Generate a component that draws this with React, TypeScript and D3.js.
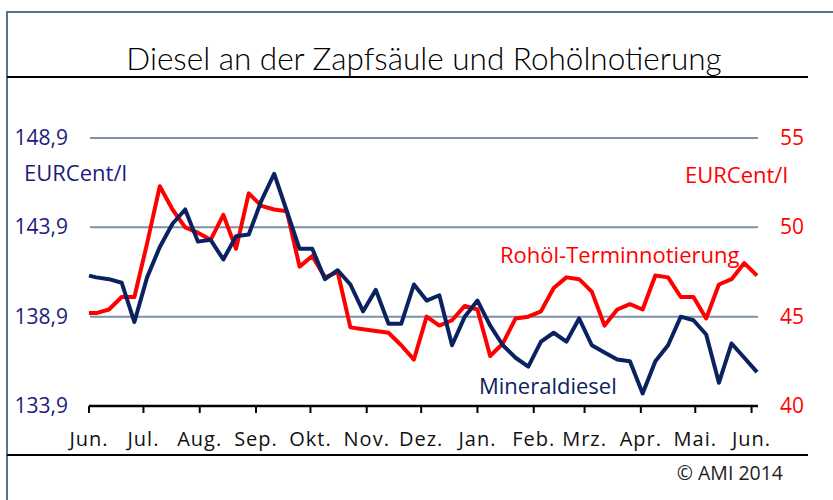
import React from "react";
import * as d3 from "d3";

// weekly quotes, Jun 2013 - Jun 2014
const dates = [
  "2013-06-01", "2013-06-05", "2013-06-12", "2013-06-19", "2013-06-26",
  "2013-07-03", "2013-07-10", "2013-07-17", "2013-07-24", "2013-07-31",
  "2013-08-07", "2013-08-14", "2013-08-21", "2013-08-28",
  "2013-09-04", "2013-09-11", "2013-09-18", "2013-09-25",
  "2013-10-02", "2013-10-09", "2013-10-16", "2013-10-23", "2013-10-30",
  "2013-11-06", "2013-11-13", "2013-11-20", "2013-11-27",
  "2013-12-04", "2013-12-11", "2013-12-18", "2013-12-25",
  "2014-01-01", "2014-01-08", "2014-01-15", "2014-01-22", "2014-01-29",
  "2014-02-05", "2014-02-12", "2014-02-19", "2014-02-26",
  "2014-03-05", "2014-03-12", "2014-03-19", "2014-03-26",
  "2014-04-02", "2014-04-09", "2014-04-16", "2014-04-23", "2014-04-30",
  "2014-05-07", "2014-05-14", "2014-05-21", "2014-05-28",
  "2014-06-04",
];

const diesel = [
  141.2, 141.1, 141.0, 140.8, 138.6, 141.1, 142.8, 144.1, 144.9, 143.1,
  143.2, 142.1, 143.4, 143.5, 145.4, 146.9, 144.8, 142.7, 142.7, 141.0,
  141.5, 140.7, 139.2, 140.4, 138.5, 138.5, 140.7, 139.8, 140.1, 137.3,
  138.9, 139.8, 138.4, 137.3, 136.6, 136.1, 137.5, 138.0, 137.5, 138.8,
  137.3, 136.9, 136.5, 136.4, 134.6, 136.4, 137.3, 138.9, 138.7, 137.9,
  135.2, 137.4, 136.6, 135.8,
];

const crude = [
  45.2, 45.2, 45.4, 46.1, 46.1, 49.1, 52.3, 51.0, 50.0, 49.7,
  49.3, 50.7, 48.8, 51.9, 51.2, 51.0, 50.9, 47.8, 48.4, 47.2,
  47.5, 44.4, 44.3, 44.2, 44.1, 43.4, 42.6, 45.0, 44.5, 44.8,
  45.6, 45.4, 42.8, 43.5, 44.9, 45.0, 45.3, 46.6, 47.2, 47.1,
  46.4, 44.5, 45.4, 45.7, 45.4, 47.3, 47.2, 46.1, 46.1, 44.9,
  46.8, 47.1, 48.0, 47.3,
];

const monthLabels = ["Jun.", "Jul.", "Aug.", "Sep.", "Okt.", "Nov.", "Dez.", "Jan.", "Feb.", "Mrz.", "Apr.", "Mai.", "Jun."];
const leftTicks = [133.9, 138.9, 143.9, 148.9];
const rightTicks = [40, 45, 50, 55];

const W = 833, H = 500;
const navy = "#0b2260";
const red = "#ff0000";
const font = "'Open Sans', sans-serif";

export default function App() {
  const parse = d3.timeParse("%Y-%m-%d");
  const days = dates.map((d) => parse(d) as Date);

  const x = d3.scaleTime()
    .domain([parse("2013-06-01") as Date, parse("2014-06-04") as Date])
    .range([89, 757]);
  const yL = d3.scaleLinear().domain([133.9, 148.9]).range([406, 138]);
  const yR = d3.scaleLinear().domain([40, 55]).range([406, 138]);

  const months = d3.timeMonth.range(parse("2013-06-01") as Date, parse("2014-06-02") as Date);

  const lineL = d3.line<number>()
    .x((_, i) => x(days[i]))
    .y((d) => yL(d));
  const lineR = d3.line<number>()
    .x((_, i) => x(days[i]))
    .y((d) => yR(d));

  const fmt = (v: number) => v.toFixed(1).replace(".", ",");

  return (
    <svg width={W} height={H} style={{ position: "absolute", left: 0, top: 0, background: "#fff" }}>
      {/* frame */}
      <rect x={7} y={12} width={900} height={600} fill="none" stroke="#5b7191" strokeWidth={2} />
      <text x={424} y={70} textAnchor="middle" fontFamily="Lato, sans-serif" fontWeight={300}
        fontSize={31.5} fill="#000">Diesel an der Zapfsäule und Rohölnotierung</text>
      <line x1={7} x2={808} y1={77} y2={77} stroke="#000" strokeWidth={2} />
      <line x1={7} x2={808} y1={455} y2={455} stroke="#000" strokeWidth={2} />
      <text x={783} y={480} textAnchor="end" fontFamily={font} fontSize={19.5} fill="#222">© AMI 2014</text>

      {/* gridlines */}
      {leftTicks.slice(1).map((t) => (
        <line key={t} x1={90} x2={758} y1={yL(t)} y2={yL(t)} stroke="#7d91aa" strokeWidth={2} />
      ))}

      {/* axis labels */}
      {leftTicks.map((t) => (
        <text key={t} x={68} y={yL(t) + 7} textAnchor="end" fontFamily={font} fontSize={21} fill="#1c1c80">{fmt(t)}</text>
      ))}
      {rightTicks.map((t) => (
        <text key={t} x={780} y={yR(t) + 7} fontFamily={font} fontSize={21} fill={red}>{t}</text>
      ))}
      <text x={24} y={181} fontFamily={font} fontSize={22} fill="#1c1c80">EURCent/l</text>
      <text x={788} y={183} textAnchor="end" fontFamily={font} fontSize={22} fill={red}>EURCent/l</text>

      {/* x axis */}
      <line x1={89} x2={758} y1={406} y2={406} stroke="#000" strokeWidth={2.5} />
      {months.map((m, i) => (
        <g key={i}>
          <line x1={x(m)} x2={x(m)} y1={406} y2={413} stroke="#000" strokeWidth={2} />
          <text x={x(m)} y={446} textAnchor="middle" fontFamily={font} fontSize={20}
            letterSpacing={1} fill="#111">{monthLabels[i]}</text>
        </g>
      ))}

      {/* series */}
      <path d={lineR(crude) || ""} fill="none" stroke={red} strokeWidth={4} strokeLinejoin="round" />
      <path d={lineL(diesel) || ""} fill="none" stroke={navy} strokeWidth={4} strokeLinejoin="round" />

      <text x={500} y={263} fontFamily={font} fontSize={22} fill={red}>Rohöl-Terminnotierung</text>
      <text x={479} y={394} fontFamily={font} fontSize={22} fill={navy}>Mineraldiesel</text>
    </svg>
  );
}
